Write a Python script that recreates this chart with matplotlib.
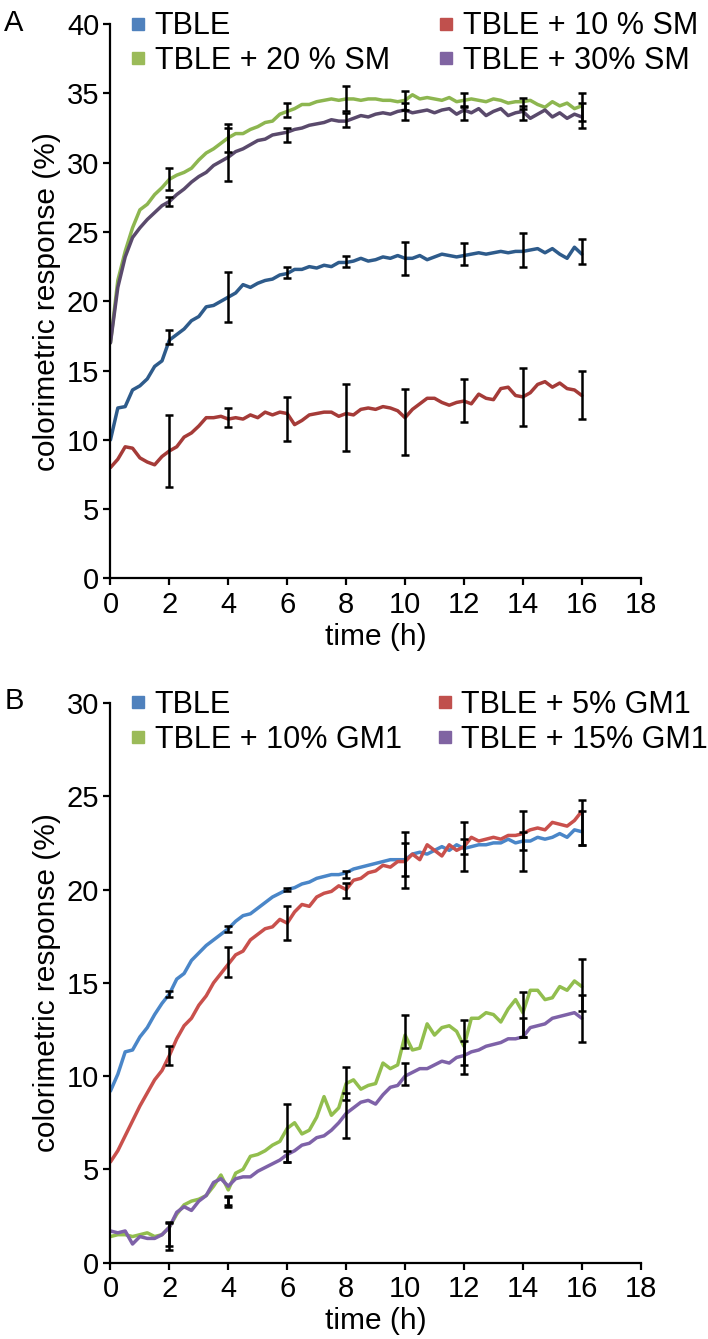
import numpy as np
import matplotlib
matplotlib.use("Agg")
import matplotlib.pyplot as plt
from matplotlib.lines import Line2D

plt.rcParams['font.family'] = ['Liberation Sans', 'DejaVu Sans']

# ---------------- data ----------------
time_h = np.arange(0, 16.01, 0.25)
err_t = [2, 4, 6, 8, 10, 12, 14, 16]

# Panel A (sphingomyelin)
A_tble = [10.0, 12.3, 12.4, 13.6, 13.9, 14.4, 15.3, 15.7, 17.2, 17.6, 18.0, 18.6, 18.9, 19.6, 19.7, 20.0,
          20.3, 20.6, 21.2, 21.0, 21.3, 21.5, 21.6, 21.9, 22.0, 22.3, 22.3, 22.5, 22.4, 22.6, 22.5, 22.8,
          22.8, 22.9, 23.1, 22.9, 23.0, 23.2, 23.1, 23.3, 23.1, 23.1, 23.3, 23.0, 23.2, 23.4, 23.3, 23.2,
          23.3, 23.4, 23.5, 23.4, 23.5, 23.6, 23.5, 23.6, 23.6, 23.7, 23.8, 23.5, 23.8, 23.4, 23.1, 23.9, 23.4]
A_sm10 = [8.0, 8.6, 9.5, 9.4, 8.7, 8.4, 8.2, 8.8, 9.2, 9.5, 10.2, 10.5, 11.0, 11.6, 11.6, 11.7,
          11.5, 11.6, 11.5, 11.8, 11.6, 12.0, 11.8, 12.0, 11.9, 11.1, 11.4, 11.8, 11.9, 12.0, 12.0, 11.7,
          11.9, 11.8, 12.2, 12.3, 12.2, 12.4, 12.3, 12.1, 11.6, 12.2, 12.6, 13.0, 13.0, 12.7, 12.5, 12.7,
          12.8, 12.6, 13.3, 13.0, 12.9, 13.7, 13.8, 13.2, 13.1, 13.4, 14.0, 14.2, 13.8, 14.1, 13.7, 13.6, 13.2]
A_sm20 = [17.0, 21.5, 23.6, 25.3, 26.6, 27.0, 27.7, 28.2, 28.8, 29.1, 29.3, 29.6, 30.2, 30.7, 31.0, 31.4,
          31.8, 32.1, 32.1, 32.4, 32.6, 32.9, 33.0, 33.5, 33.7, 33.9, 34.2, 34.2, 34.4, 34.5, 34.6, 34.5,
          34.6, 34.6, 34.5, 34.6, 34.6, 34.5, 34.5, 34.4, 34.5, 34.9, 34.6, 34.7, 34.6, 34.5, 34.7, 34.4,
          34.5, 34.6, 34.5, 34.4, 34.6, 34.5, 34.3, 34.4, 34.4, 34.5, 34.2, 34.0, 34.4, 34.1, 34.3, 33.9, 34.1]
A_sm30 = [17.0, 21.0, 23.2, 24.6, 25.3, 25.9, 26.4, 26.9, 27.2, 27.7, 28.1, 28.6, 29.0, 29.3, 29.8, 30.1,
          30.4, 30.8, 31.0, 31.3, 31.6, 31.7, 32.0, 32.1, 32.2, 32.4, 32.5, 32.7, 32.8, 32.9, 33.1, 33.0,
          33.0, 33.2, 33.4, 33.3, 33.5, 33.6, 33.5, 33.7, 33.8, 33.6, 33.7, 33.8, 33.6, 33.8, 33.9, 33.5,
          33.8, 33.6, 33.9, 33.4, 33.7, 33.9, 33.4, 33.6, 33.7, 33.2, 33.5, 33.8, 33.3, 33.6, 33.2, 33.5, 33.3]

A_tble_mean = [17.4, 20.3, 22.1, 22.9, 23.1, 23.4, 23.7, 23.6]
A_tble_sd = [0.5, 1.8, 0.4, 0.4, 1.2, 0.8, 1.2, 0.9]
A_sm10_mean = [9.2, 11.6, 11.5, 11.6, 11.3, 12.85, 13.1, 13.25]
A_sm10_sd = [2.6, 0.7, 1.6, 2.4, 2.4, 1.55, 2.1, 1.75]
A_sm20_mean = [28.8, 31.8, 33.8, 34.6, 34.5, 34.5, 34.3, 34.0]
A_sm20_sd = [0.8, 1.0, 0.5, 0.9, 0.7, 0.5, 0.4, 1.0]
A_sm30_mean = [27.2, 30.6, 32.0, 33.1, 33.7, 33.6, 33.6, 33.4]
A_sm30_sd = [0.3, 1.9, 0.5, 0.5, 0.6, 0.5, 0.5, 0.9]

# Panel B (GM1)
B_tble = [9.2, 10.1, 11.3, 11.4, 12.1, 12.6, 13.3, 13.9, 14.4, 15.2, 15.5, 16.2, 16.6, 17.0, 17.3, 17.6,
          17.9, 18.3, 18.6, 18.7, 19.0, 19.3, 19.6, 19.8, 20.0, 20.1, 20.3, 20.4, 20.6, 20.7, 20.8, 20.8,
          20.9, 21.1, 21.2, 21.3, 21.4, 21.5, 21.6, 21.6, 21.6, 21.9, 22.0, 21.9, 22.1, 22.3, 22.1, 22.4,
          22.2, 22.3, 22.4, 22.4, 22.5, 22.5, 22.7, 22.5, 22.6, 22.6, 22.8, 22.7, 22.8, 23.0, 22.8, 23.2, 23.1]
B_gm5 = [5.4, 6.0, 6.8, 7.6, 8.4, 9.1, 9.8, 10.3, 11.1, 12.0, 12.7, 13.1, 13.8, 14.3, 15.0, 15.5,
         16.0, 16.5, 16.7, 17.3, 17.6, 17.9, 18.0, 18.4, 18.2, 18.8, 19.2, 19.1, 19.6, 19.8, 19.9, 20.2,
         20.0, 20.5, 20.6, 20.9, 21.0, 21.3, 21.2, 21.5, 21.5, 21.9, 21.6, 22.4, 22.1, 21.8, 22.4, 22.1,
         22.3, 22.8, 22.6, 22.7, 22.8, 22.7, 22.9, 22.9, 23.0, 23.2, 23.3, 23.2, 23.6, 23.5, 23.4, 23.7, 24.2]
B_gm10 = [1.4, 1.5, 1.5, 1.4, 1.5, 1.6, 1.4, 1.5, 1.9, 2.6, 3.1, 3.3, 3.4, 3.6, 4.1, 4.7,
          3.9, 4.8, 5.0, 5.7, 5.8, 6.0, 6.3, 6.5, 7.2, 7.5, 6.9, 7.1, 7.8, 8.9, 7.9, 8.3,
          9.6, 9.8, 9.3, 9.5, 9.6, 10.7, 10.4, 10.6, 12.2, 11.4, 11.5, 12.8, 12.2, 12.6, 12.7, 12.4,
          11.6, 13.1, 13.1, 13.4, 13.3, 12.9, 13.6, 14.1, 13.4, 14.6, 14.6, 14.1, 14.2, 14.8, 14.6, 15.1, 14.8]
B_gm15 = [1.7, 1.6, 1.7, 1.0, 1.4, 1.3, 1.3, 1.5, 1.9, 2.7, 3.0, 2.8, 3.3, 3.6, 4.3, 4.5,
          4.1, 4.5, 4.6, 4.6, 4.9, 5.1, 5.3, 5.5, 5.8, 6.0, 6.3, 6.4, 6.7, 6.8, 7.1, 7.5,
          8.0, 8.3, 8.6, 8.7, 8.5, 9.0, 9.4, 9.5, 10.0, 10.2, 10.4, 10.4, 10.6, 10.8, 10.7, 11.0,
          11.1, 11.3, 11.4, 11.6, 11.7, 11.8, 12.0, 12.0, 12.1, 12.6, 12.7, 12.8, 13.1, 13.2, 13.3, 13.4, 13.1]

B_tble_mean = [14.4, 17.9, 20.0, 20.8, 21.6, 22.3, 22.6, 23.3]
B_tble_sd = [0.15, 0.15, 0.1, 0.2, 0.9, 0.4, 0.5, 0.9]
B_gm5_mean = [11.1, 16.1, 18.2, 19.95, 21.6, 22.3, 22.6, 23.6]
B_gm5_sd = [0.5, 0.8, 0.9, 0.4, 1.5, 1.3, 1.6, 1.2]
B_gm10_mean = [1.45, 3.3, 6.95, 8.6, 12.4, 11.8, 13.3, 14.9]
B_gm10_sd = [0.75, 0.3, 1.55, 1.9, 0.9, 1.2, 1.2, 1.4]
B_gm15_mean = [1.5, 3.3, 5.7, 8.9, 10.1, 11.0, 12.6, 13.1]
B_gm15_sd = [0.6, 0.2, 0.3, 0.2, 0.6, 0.9, 0.5, 1.25]

labels_A = ["TBLE", "TBLE + 10 % SM", "TBLE + 20 % SM", "TBLE + 30% SM"]
labels_B = ["TBLE", "TBLE + 5% GM1", "TBLE + 10% GM1", "TBLE + 15% GM1"]

# ---------------- style ----------------
legend_cols = ["#4F81BD", "#C0504D", "#9BBB59", "#8064A2"]
line_cols_A = ["#2E5B8B", "#A53B38", "#8DB650", "#5A4A6C"]
line_cols_B = ["#4A86C8", "#C9504C", "#92BE4E", "#7E62A8"]

fig = plt.figure(figsize=(7.08, 13.39), dpi=100)
axA = fig.add_axes([0.156, 0.568, 0.749, 0.414])
axB = fig.add_axes([0.156, 0.057, 0.749, 0.418])


def draw(ax, series, means, sds, cols, labels, ymax, ystep, colspace):
    for y, c in zip(series, cols):
        ax.plot(time_h, y, color=c, lw=2.5, solid_capstyle='round', zorder=2)
    for m, s in zip(means, sds):
        ax.errorbar(err_t, m, yerr=s, fmt='none', ecolor='black', elinewidth=1.8,
                    capsize=3, capthick=1.8, zorder=3)
    ax.set_xlim(0, 18)
    ax.set_ylim(0, ymax)
    ax.set_xticks(np.arange(0, 19, 2))
    ax.set_yticks(np.arange(0, ymax + 0.1, ystep))
    for sp in ['top', 'right']:
        ax.spines[sp].set_visible(False)
    for sp in ['left', 'bottom']:
        ax.spines[sp].set_linewidth(1.6)
        ax.spines[sp].set_clip_on(False)
    ax.tick_params(direction='out', length=5, width=1.6, labelsize=21, pad=3)
    ax.tick_params(axis='x', pad=4)
    ax.set_xlabel("time (h)", fontsize=21.5, labelpad=3)
    ax.set_ylabel("colorimetric response (%)", fontsize=21.5, labelpad=4)
    handles = [Line2D([], [], marker='s', ls='none', color=c, markersize=8) for c in legend_cols]
    order = [0, 2, 1, 3]
    ax.legend([handles[i] for i in order], [labels[i] for i in order], ncol=2,
              loc='upper left', bbox_to_anchor=(0.0, 1.045), frameon=False,
              fontsize=22, handletextpad=0.05, columnspacing=colspace, handlelength=1.0,
              labelspacing=0.15, borderaxespad=0)


draw(axA, [A_tble, A_sm10, A_sm20, A_sm30],
     [A_tble_mean, A_sm10_mean, A_sm20_mean, A_sm30_mean],
     [A_tble_sd, A_sm10_sd, A_sm20_sd, A_sm30_sd], line_cols_A, labels_A, 40, 5, 1.35)
draw(axB, [B_tble, B_gm5, B_gm10, B_gm15],
     [B_tble_mean, B_gm5_mean, B_gm10_mean, B_gm15_mean],
     [B_tble_sd, B_gm5_sd, B_gm10_sd, B_gm15_sd], line_cols_B, labels_B, 30, 5, 0.9)

fig.text(0.006, 0.993, "A", fontsize=21, va='top', ha='left')
fig.text(0.006, 0.487, "B", fontsize=21, va='top', ha='left')

fig.savefig("out.png", dpi=100)
